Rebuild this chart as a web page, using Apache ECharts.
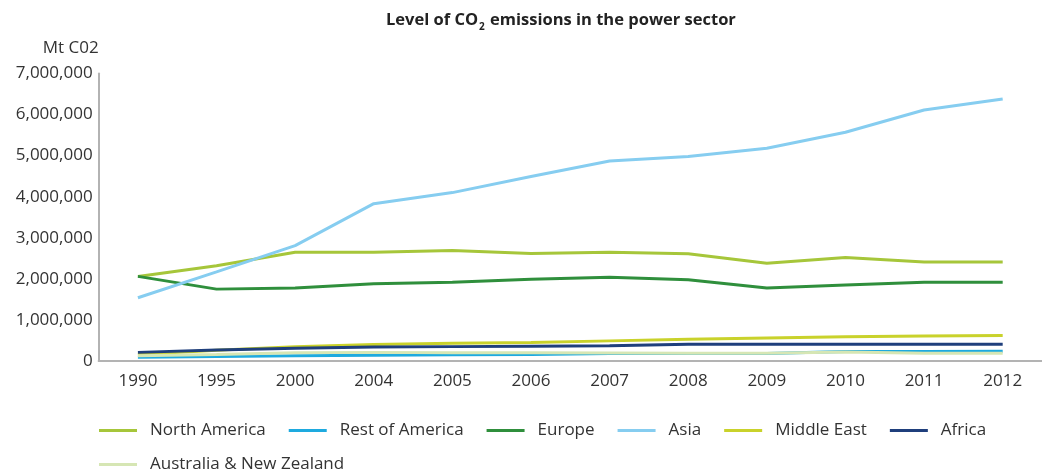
<!DOCTYPE html>
<html>
<head>
<meta charset="utf-8">
<script src="https://cdn.jsdelivr.net/npm/echarts@6/dist/echarts.min.js"></script>
<style>
html,body{margin:0;padding:0;background:#fff;}
#chart{width:1042px;height:472px;}
</style>
</head>
<body>
<div id="chart"></div>
<script>
var years = ['1990','1995','2000','2004','2005','2006','2007','2008','2009','2010','2011','2012'];
var northAmerica = [2060000,2320000,2650000,2650000,2690000,2620000,2650000,2610000,2380000,2520000,2410000,2410000];
var restOfAmerica = [90000,110000,130000,140000,150000,160000,180000,180000,180000,230000,230000,235000];
var europe = [2060000,1750000,1780000,1880000,1920000,1990000,2040000,1980000,1780000,1850000,1920000,1920000];
var asia = [1540000,2170000,2810000,3830000,4100000,4490000,4870000,4980000,5180000,5570000,6110000,6380000];
var middleEast = [160000,260000,350000,400000,430000,450000,490000,530000,560000,590000,610000,620000];
var africa = [210000,270000,310000,340000,350000,360000,370000,410000,410000,410000,410000,410000];
var australiaNZ = [130000,160000,200000,210000,200000,200000,195000,190000,190000,220000,190000,190000];
var seriesNames = ['North America','Rest of America','Europe','Asia','Middle East','Africa','Australia & New Zealand'];
var seriesColors = ['#a6c63a','#1eaadf','#2f8f3c','#86cdf0','#c9d22b','#1f3f7c','#d6e6b4'];
var seriesData = [northAmerica, restOfAmerica, europe, asia, middleEast, africa, australiaNZ];

var font = '"Open Sans", "Noto Sans", sans-serif';
var chart = echarts.init(document.getElementById('chart'), null, {renderer:'canvas'});

var series = seriesNames.map(function(n, i){
  return {
    name: n, type: 'line', data: seriesData[i], symbol: 'none',
    lineStyle: {width: 3, color: seriesColors[i]},
    itemStyle: {color: seriesColors[i]},
    z: 2 + i
  };
});

var legendCommon = {
  left: 99, padding: 0, orient: 'horizontal', icon: 'rect', itemWidth: 38, itemHeight: 3, itemGap: 23,
  textStyle: {fontFamily: font, fontSize: 17, color: '#333', padding: [0,0,0,8]}
};

chart.setOption({
  animation: false,
  backgroundColor: '#fff',
  title: {
    text: '{a|Level of CO}{b|2}{a| emissions in the power sector}',
    left: 381, top: 3,
    textStyle: {
      rich: {
        a: {fontFamily: font, fontSize: 16.5, fontWeight: 'bold', color: '#222', lineHeight: 24},
        b: {fontFamily: font, fontSize: 10, fontWeight: 'bold', color: '#222', lineHeight: 24, verticalAlign: 'bottom', padding: [0,1,0,1]}
      }
    }
  },
  legend: [
    Object.assign({top: 422, data: seriesNames.slice(0,6)}, legendCommon),
    Object.assign({top: 456, data: seriesNames.slice(6)}, legendCommon)
  ],
  grid: {left: 98.6, right: -9.4, top: 73.5, bottom: 111, containLabel: false},
  xAxis: {
    type: 'category', data: years, boundaryGap: true,
    axisLine: {lineStyle: {color: '#b3b3b3', width: 2}},
    axisTick: {show: false},
    axisLabel: {fontFamily: font, fontSize: 17, color: '#333', margin: 12, interval: 0}
  },
  yAxis: {
    type: 'value', min: 0, max: 7000000, interval: 1000000,
    name: 'Mt C02', nameLocation: 'end', nameGap: 17,
    nameTextStyle: {fontFamily: font, fontSize: 17, color: '#333', align: 'right'},
    axisLine: {show: true, lineStyle: {color: '#b3b3b3', width: 2}},
    axisTick: {show: false},
    splitLine: {show: false},
    axisLabel: {fontFamily: font, fontSize: 17, color: '#333', margin: 6,
      formatter: function(v){ return v.toLocaleString('en-US'); }}
  },
  series: series
});
</script>
</body>
</html>
